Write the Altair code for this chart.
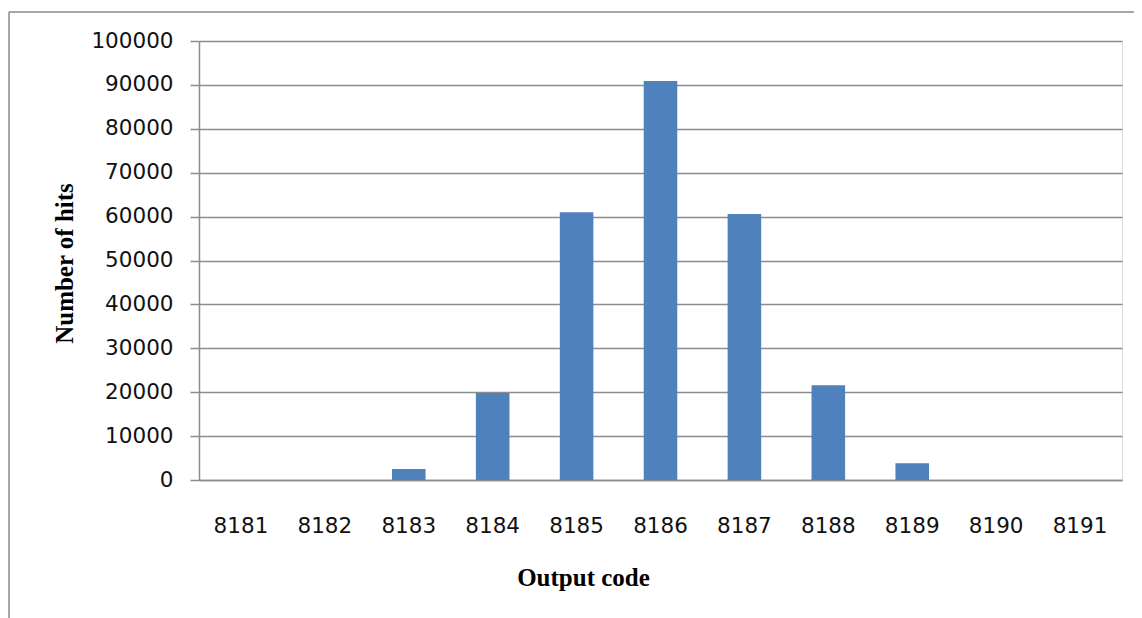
import altair as alt
import pandas as pd

codes = ["8181", "8182", "8183", "8184", "8185", "8186", "8187", "8188", "8189", "8190", "8191"]
hits = [0, 0, 2500, 19800, 61000, 90900, 60600, 21600, 3800, 0, 0]

df = pd.DataFrame({"code": codes, "hits": hits})

W, H = 923, 439
GRID = "#8c8c8c"

bars = alt.Chart(df).mark_bar(color="#4F81BD").encode(
    x=alt.X(
        "code:N",
        sort=codes,
        scale=alt.Scale(paddingInner=0.6, paddingOuter=0.3),
        axis=alt.Axis(
            title="Output code",
            labelAngle=0,
            ticks=False,
            tickSize=0,
            grid=False,
            domainColor=GRID,
            domainWidth=1.5,
            labelFont="DejaVu Sans",
            labelFontSize=21.5,
            labelColor="#111111",
            labelBaseline="alphabetic",
            labelPadding=52,
            titleFont="Liberation Serif",
            titleFontSize=25,
            titleFontWeight="bold",
            titleColor="#000000",
            titleX=384,
            titleY=105,
            titleAlign="center",
            titleBaseline="alphabetic",
        ),
    ),
    y=alt.Y(
        "hits:Q",
        scale=alt.Scale(domain=[0, 100000], nice=False),
        axis=alt.Axis(
            title="Number of hits",
            values=list(range(0, 100001, 10000)),
            format="d",
            grid=True,
            gridColor=GRID,
            gridWidth=1.5,
            domainColor=GRID,
            domainWidth=1.5,
            tickColor=GRID,
            tickWidth=1.5,
            tickSize=9,
            labelFont="DejaVu Sans",
            labelFontSize=21.5,
            labelColor="#111111",
            labelPadding=17,
            titleFont="Liberation Serif",
            titleFontSize=25,
            titleFontWeight="bold",
            titleColor="#000000",
            titleAngle=-90,
            titleX=-135,
            titleY=222,
            titleAlign="center",
            titleBaseline="middle",
        ),
    ),
)

one = pd.DataFrame({"a": [0]})
frame_left = alt.Chart(one).mark_rule(color="#8a8a8a", strokeWidth=1.5).encode(
    x=alt.value(-190), y=alt.value(-29), y2=alt.value(620)
)
frame_top = alt.Chart(one).mark_rule(color="#8a8a8a", strokeWidth=1.5).encode(
    y=alt.value(-29), x=alt.value(-190), x2=alt.value(960)
)

chart = (
    alt.layer(bars, frame_left, frame_top)
    .properties(
        width=W,
        height=H,
        autosize=alt.AutoSizeParams(type="none"),
        padding={"left": 191, "top": 33, "right": 12, "bottom": 150},
    )
    .configure_view(stroke=None)
    .configure(background="white")
)

chart.save("out.html", embed_options={"renderer": "svg", "actions": False})
